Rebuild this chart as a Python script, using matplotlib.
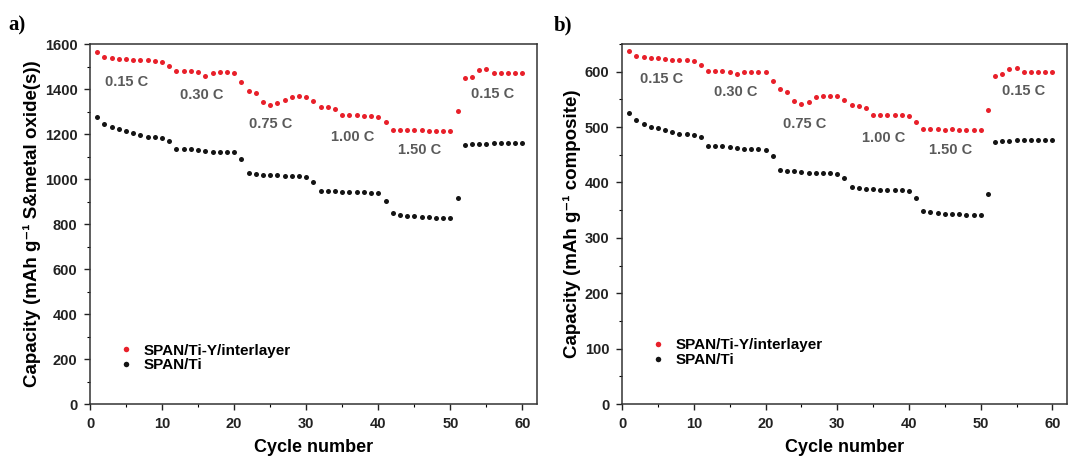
import matplotlib
matplotlib.use("Agg")
import matplotlib.pyplot as plt
from matplotlib.ticker import MultipleLocator
import numpy as np

plt.rcParams['font.family'] = ['Liberation Sans', 'DejaVu Sans']
plt.rcParams['font.weight'] = 'bold'

cycles = np.arange(1, 61)

# panel a: capacity per g of S & metal oxide(s)
cap_a_interlayer = [1566, 1544, 1538, 1535, 1533, 1531, 1530, 1528, 1525, 1520,
                    1504, 1478, 1478, 1480, 1476, 1460, 1472, 1474, 1474, 1472,
                    1432, 1391, 1381, 1344, 1330, 1340, 1352, 1364, 1368, 1366,
                    1347, 1322, 1318, 1310, 1284, 1283, 1283, 1282, 1280, 1277,
                    1255, 1220, 1218, 1217, 1218, 1220, 1214, 1215, 1212, 1214,
                    1304, 1450, 1455, 1484, 1487, 1470, 1470, 1470, 1470, 1472]
cap_a_ti = [1274, 1244, 1230, 1221, 1213, 1206, 1196, 1185, 1185, 1181,
            1169, 1133, 1133, 1132, 1130, 1125, 1120, 1120, 1121, 1118,
            1089, 1025, 1022, 1020, 1018, 1016, 1015, 1012, 1012, 1010,
            988, 948, 946, 945, 944, 943, 942, 941, 940, 936,
            904, 848, 840, 836, 834, 832, 830, 829, 828, 826,
            917, 1152, 1155, 1156, 1157, 1158, 1160, 1160, 1160, 1158]

# panel b: capacity per g of composite
cap_b_interlayer = [638, 629, 626, 625, 624, 623, 622, 621, 621, 620,
                    613, 602, 601, 602, 600, 596, 600, 600, 600, 600,
                    584, 569, 563, 548, 542, 546, 555, 557, 557, 556,
                    549, 540, 538, 535, 522, 522, 522, 521, 521, 520,
                    510, 497, 496, 496, 495, 496, 494, 495, 494, 495,
                    531, 593, 595, 605, 607, 599, 599, 599, 599, 600]
cap_b_ti = [525, 513, 506, 501, 498, 495, 492, 488, 488, 486,
            482, 465, 465, 465, 464, 462, 461, 460, 460, 458,
            448, 423, 421, 420, 419, 418, 418, 417, 417, 416,
            409, 392, 390, 389, 388, 387, 387, 386, 386, 385,
            372, 349, 347, 345, 344, 343, 343, 342, 342, 342,
            380, 474, 475, 475, 476, 476, 477, 477, 477, 476]

rate_labels = ['0.15 C', '0.30 C', '0.75 C', '1.00 C', '1.50 C', '0.15 C']
rate_pos_a = [(5.1, 1432), (15.5, 1373), (25.0, 1244), (36.5, 1188), (45.8, 1129), (55.8, 1376)]
rate_pos_b = [(5.5, 587), (15.9, 564), (25.4, 506), (36.5, 480), (45.8, 459), (56.0, 566)]

red = '#e8202a'
blk = '#141414'

fig = plt.figure(figsize=(10.69, 4.66), dpi=100)
ax1 = fig.add_axes([0.0842, 0.133, 0.418, 0.7725])
ax2 = fig.add_axes([0.5819, 0.133, 0.416, 0.7725])


def draw(ax, red_vals, blk_vals, ylim, ymaj, ymin, ylabel, rate_pos, leg_anchor):
    ax.plot(cycles, red_vals, 'o', color=red, ms=3.6, mec='none', label='SPAN/Ti-Y/interlayer')
    ax.plot(cycles, blk_vals, 'o', color=blk, ms=3.6, mec='none', label='SPAN/Ti')
    ax.set_xlim(0, 62)
    ax.set_ylim(*ylim)
    ax.xaxis.set_major_locator(MultipleLocator(10))
    ax.xaxis.set_minor_locator(MultipleLocator(5))
    ax.yaxis.set_major_locator(MultipleLocator(ymaj))
    ax.yaxis.set_minor_locator(MultipleLocator(ymin))
    ax.tick_params(which='major', direction='out', length=4, width=1, labelsize=10.5,
                   colors='#222', pad=5)
    ax.tick_params(which='minor', direction='out', length=2.5, width=0.8)
    for s in ax.spines.values():
        s.set_linewidth(1.1)
        s.set_color('#333')
    ax.set_xlabel('Cycle number', fontsize=13, fontweight='bold', labelpad=6)
    ax.set_ylabel(ylabel, fontsize=13.5, fontweight='bold', labelpad=3)
    for lab, (x, y) in zip(rate_labels, rate_pos):
        ax.text(x, y, lab, ha='center', va='center', fontsize=10.5, color='#5a5a5a', fontweight='bold')
    ax.legend(loc='lower left', bbox_to_anchor=leg_anchor, frameon=False,
              handletextpad=0.15, labelspacing=0.05, markerscale=1.1,
              prop={'weight': 'bold', 'size': 11})


draw(ax1, cap_a_interlayer, cap_a_ti, (0, 1600), 200, 100,
     'Capacity (mAh g⁻¹ S&metal oxide(s))', rate_pos_a, (0.015, 0.05))
draw(ax2, cap_b_interlayer, cap_b_ti, (0, 650), 100, 50,
     'Capacity (mAh g⁻¹ composite)', rate_pos_b, (0.015, 0.065))

fig.text(0.008, 0.935, 'a)', fontsize=15, fontweight='bold', family='Liberation Serif')
fig.text(0.518, 0.935, 'b)', fontsize=15, fontweight='bold', family='Liberation Serif')

fig.savefig('out.png', dpi=100)
